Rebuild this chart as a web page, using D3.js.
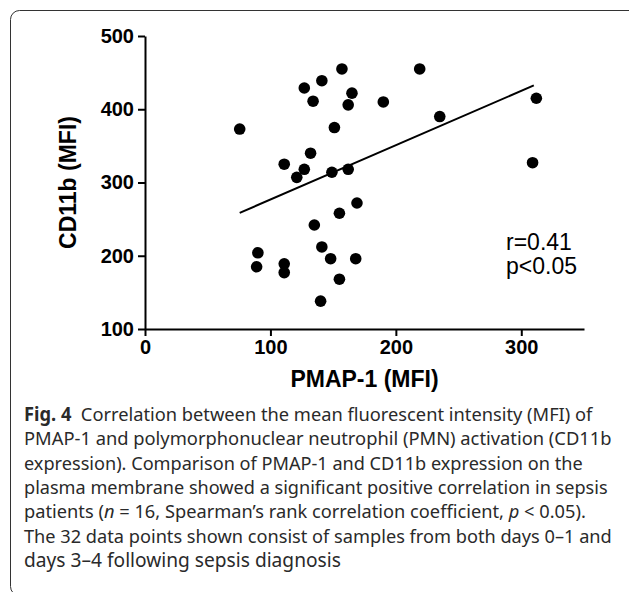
<!DOCTYPE html>
<html>
<head>
<meta charset="utf-8">
<script src="https://d3js.org/d3.v7.min.js"></script>
<style>
  body { margin: 0; background: #fff; }
  .axis text { font-family: "Liberation Sans", Arial, sans-serif; font-weight: bold; font-size: 20px; fill: #000; }
  .axis path, .axis line { stroke: #000; stroke-width: 2px; }
  .caption { font-family: "Noto Sans", "Open Sans", sans-serif; font-size: 19px; fill: #2a2a2a; white-space: pre; }
</style>
</head>
<body>
<div id="chart"></div>
<script>
// PMAP-1 MFI (x) and CD11b MFI (y)
const pmap  = [75.5, 157, 219, 141, 127, 165, 134, 162, 190, 235, 312, 151, 132, 111, 127, 121,
               149, 162, 309, 169, 155, 135, 141, 90, 89, 111, 111, 148, 168, 155, 140]
const cd11b = [373, 455, 455, 439, 429, 422, 411, 406, 410, 390, 415, 375, 340, 325, 318, 307,
               314, 318, 327, 272, 258, 242, 212, 204, 185, 189, 177, 196, 196, 168, 138]

const xTicks = [0, 100, 200, 300]
const yTicks = [100, 200, 300, 400, 500]

// fitted line shown on the figure
const fitSlope = 0.742
const fitIntercept = 202.5

const statLines = ["r=0.41", "p<0.05"]

const captionLines = [
    [{ t: "Fig. 4", b: true }, { t: "  Correlation between the mean fluorescent intensity (MFI) of" }],
    [{ t: "PMAP-1 and polymorphonuclear neutrophil (PMN) activation (CD11b" }],
    [{ t: "expression). Comparison of PMAP-1 and CD11b expression on the" }],
    [{ t: "plasma membrane showed a significant positive correlation in sepsis" }],
    [{ t: "patients (" }, { t: "n", i: true }, { t: " = 16, Spearman\u2019s rank correlation coefficient, " }, { t: "p", i: true }, { t: " < 0.05)." }],
    [{ t: "The 32 data points shown consist of samples from both days 0\u20131 and" }],
    [{ t: "days 3\u20134 following sepsis diagnosis" }]
]
const captionRight = [593, 612, 583, 608, 586, 612, 341]

const width = 629
const height = 592

const svg = d3.select("#chart").append("svg")
    .attr("width", width).attr("height", height)

// figure frame
svg.append("rect")
    .attr("x", 10.5).attr("y", 10.5)
    .attr("width", 700).attr("height", 585)
    .attr("rx", 9)
    .attr("fill", "none").attr("stroke", "#333").attr("stroke-width", 1)

const x = d3.scaleLinear().domain([0, 350]).range([145, 584])
const y = d3.scaleLinear().domain([100, 500]).range([329, 36])

svg.append("g")
    .attr("class", "axis")
    .attr("transform", "translate(0," + y(100) + ")")
    .call(d3.axisBottom(x).tickValues(xTicks).tickSize(7).tickPadding(4).tickSizeOuter(0))

svg.append("g")
    .attr("class", "axis")
    .attr("transform", "translate(" + x(0) + ",0)")
    .call(d3.axisLeft(y).tickValues(yTicks).tickSize(7).tickPadding(4).tickSizeOuter(0))

svg.append("text")
    .attr("x", (x(0) + x(350)) / 2).attr("y", 387)
    .attr("text-anchor", "middle")
    .style("font-family", "'Liberation Sans', Arial, sans-serif")
    .style("font-weight", "bold").style("font-size", "23px")
    .text("PMAP-1 (MFI)")

svg.append("text")
    .attr("transform", "translate(76," + ((y(100) + y(500)) / 2) + ") rotate(-90)")
    .attr("text-anchor", "middle")
    .style("font-family", "'Liberation Sans', Arial, sans-serif")
    .style("font-weight", "bold").style("font-size", "23px")
    .text("CD11b (MFI)")

// regression line across the data range
const xMin = d3.min(pmap), xMax = d3.max(pmap) - 2
svg.append("line")
    .attr("x1", x(xMin)).attr("y1", y(fitIntercept + fitSlope * xMin))
    .attr("x2", x(xMax)).attr("y2", y(fitIntercept + fitSlope * xMax))
    .attr("stroke", "#000").attr("stroke-width", 2)

svg.append("g").selectAll("circle")
    .data(pmap.map((d, i) => [d, cd11b[i]]))
    .enter().append("circle")
    .attr("cx", d => x(d[0]))
    .attr("cy", d => y(d[1]))
    .attr("r", 5.8)
    .attr("fill", "#000")

svg.append("g").selectAll("text")
    .data(statLines)
    .enter().append("text")
    .attr("x", 506)
    .attr("y", (d, i) => 250 + i * 24)
    .style("font-family", "'Liberation Sans', Arial, sans-serif")
    .style("font-size", "23px")
    .text(d => d)

// caption: each line squeezed horizontally to the reference's line width
const cap = svg.append("g")
captionLines.forEach((line, i) => {
    const g = cap.append("g")
    const t = g.append("text")
        .attr("class", "caption")
        .attr("x", 0)
        .attr("y", 0)
    line.forEach(seg => {
        t.append("tspan")
            .style("font-weight", seg.b ? "bold" : null)
            .style("font-style", seg.i ? "italic" : null)
            .text(seg.t)
    })
    const w = t.node().getComputedTextLength()
    const sx = (captionRight[i] - 24) / w
    g.attr("transform", "translate(24," + (421 + i * 24.3) + ") scale(" + sx + ",1)")
})
</script>
</body>
</html>
